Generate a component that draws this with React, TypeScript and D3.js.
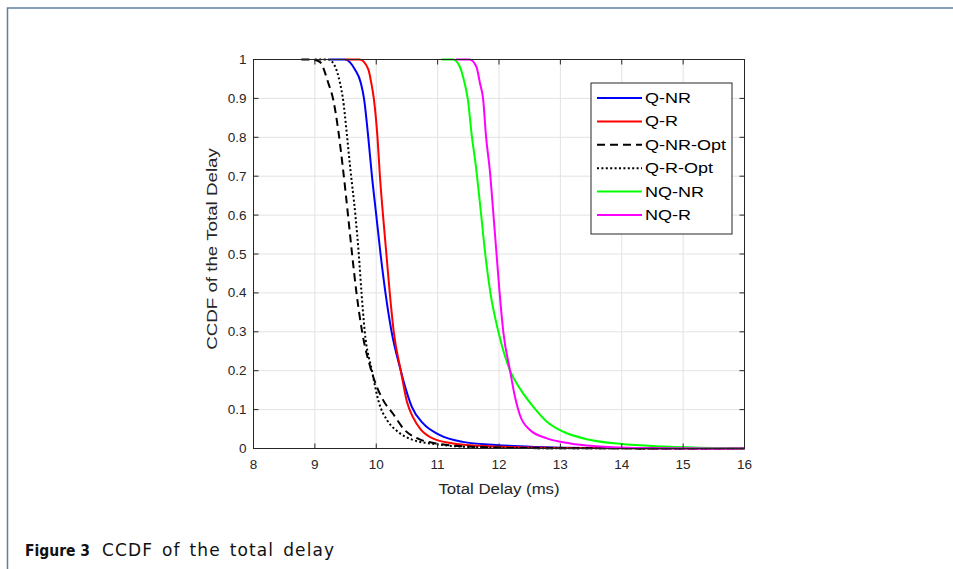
import React from 'react';
import * as d3 from 'd3';

// axis ticks
const xTicks = [8, 9, 10, 11, 12, 13, 14, 15, 16];
const yTicks = [0, 0.1, 0.2, 0.3, 0.4, 0.5, 0.6, 0.7, 0.8, 0.9, 1];
const yTickLabels = ['0', '0.1', '0.2', '0.3', '0.4', '0.5', '0.6', '0.7', '0.8', '0.9', '1'];

// CCDF curves: [delay (ms), ccdf]
const qNR: [number, number][] = [
  [9.24, 1], [9.49, 1], [9.65, 0.975], [9.75, 0.939], [9.8, 0.9], [9.87, 0.8],
  [9.93, 0.7], [10.0, 0.6], [10.07, 0.5], [10.15, 0.4], [10.25, 0.3], [10.4, 0.2],
  [10.45, 0.17], [10.58, 0.107], [10.76, 0.065], [11.03, 0.035], [11.41, 0.017],
  [11.95, 0.009], [12.6, 0.004], [13.5, 0.001], [16, 0],
];
const qR: [number, number][] = [
  [9.49, 1], [9.73, 1], [9.87, 0.975], [9.92, 0.939], [9.96, 0.9], [10.02, 0.8],
  [10.06, 0.7], [10.11, 0.6], [10.165, 0.5], [10.22, 0.4], [10.285, 0.3], [10.4, 0.2],
  [10.5, 0.12], [10.6, 0.08], [10.72, 0.05], [10.92, 0.026], [11.25, 0.013],
  [11.68, 0.007], [12.3, 0.003], [13.2, 0.001], [16, 0],
];
const qNROpt: [number, number][] = [
  [8.78, 1], [8.95, 1], [9.08, 0.994], [9.22, 0.939], [9.3, 0.896], [9.38, 0.819],
  [9.45, 0.73], [9.54, 0.6], [9.606, 0.5], [9.678, 0.4], [9.77, 0.3], [9.92, 0.2],
  [10.11, 0.125], [10.27, 0.09], [10.46, 0.048], [10.7, 0.024], [10.98, 0.013],
  [11.5, 0.005], [12.5, 0.001], [16, 0],
];
const qROpt: [number, number][] = [
  [9.0, 1], [9.22, 1], [9.33, 0.982], [9.41, 0.939], [9.46, 0.896], [9.52, 0.81],
  [9.57, 0.73], [9.66, 0.6], [9.715, 0.5], [9.76, 0.4], [9.813, 0.3], [9.93, 0.2],
  [10.04, 0.12], [10.18, 0.072], [10.33, 0.046], [10.6, 0.022], [10.98, 0.011],
  [11.5, 0.004], [12.5, 0.001], [16, 0],
];
const nqNR: [number, number][] = [
  [11.06, 1], [11.25, 1], [11.36, 0.982], [11.44, 0.939], [11.49, 0.9], [11.56, 0.8],
  [11.62, 0.73], [11.71, 0.6], [11.776, 0.5], [11.86, 0.4], [11.99, 0.3], [12.18, 0.2],
  [12.35, 0.152], [12.56, 0.107], [12.78, 0.069], [13.05, 0.043], [13.43, 0.024],
  [13.97, 0.012], [14.68, 0.005], [15.5, 0.001], [16, 0],
];
const nqR: [number, number][] = [
  [11.3, 1], [11.52, 1], [11.63, 0.982], [11.69, 0.939], [11.74, 0.9], [11.79, 0.8],
  [11.85, 0.716], [11.91, 0.6], [11.96, 0.5], [12.01, 0.4], [12.07, 0.3], [12.18, 0.2],
  [12.26, 0.133], [12.34, 0.086], [12.5, 0.048], [12.78, 0.026], [13.16, 0.013],
  [13.59, 0.006], [14.1, 0.002], [15, 0.0005], [16, 0],
];

const seriesNames = ['Q-NR', 'Q-R', 'Q-NR-Opt', 'Q-R-Opt', 'NQ-NR', 'NQ-R'];
const seriesData = [qNR, qR, qNROpt, qROpt, nqNR, nqR];

const lineStyles = [
  { color: '#0000ff', dash: undefined },
  { color: '#ff0000', dash: undefined },
  { color: '#000000', dash: '8,5' },
  { color: '#000000', dash: '2,2.4' },
  { color: '#00ff00', dash: undefined },
  { color: '#ff00ff', dash: undefined },
];

const W = 953;
const H = 569;
const plot = { left: 253.5, right: 744.5, top: 59.5, bottom: 448.5 };
const axisColor = '#262626';
const font = '"Liberation Sans", Arial, sans-serif';

const App = () => {
  const x = d3.scaleLinear().domain([8, 16]).range([plot.left, plot.right]);
  const y = d3.scaleLinear().domain([0, 1]).range([plot.bottom, plot.top]);
  const line = d3.line<[number, number]>()
    .x(d => x(d[0]))
    .y(d => y(d[1]))
    .curve(d3.curveMonotoneX);

  const legend = { x: 591, y: 83, w: 141, h: 151, row0: 98, rowGap: 23.4 };

  return (
    <svg width={W} height={H} style={{ position: 'absolute', left: 0, top: 0, background: '#fff' }}>
      {/* page frame */}
      <path d={`M7.5,${H + 5} V8 H${W + 5}`} fill="none" stroke="#5f7fa0" strokeWidth={1.5} />

      {/* grid */}
      <g stroke="#e3e3e3" strokeWidth={1}>
        {xTicks.map(t => (
          <line key={'gx' + t} x1={x(t)} x2={x(t)} y1={plot.top} y2={plot.bottom} />
        ))}
        {yTicks.map(t => (
          <line key={'gy' + t} x1={plot.left} x2={plot.right} y1={y(t)} y2={y(t)} />
        ))}
      </g>

      {/* curves */}
      <g fill="none" strokeWidth={2}>
        {seriesData.map((d, i) => (
          <path key={seriesNames[i]} d={line(d) ?? ''} stroke={lineStyles[i].color}
            strokeDasharray={lineStyles[i].dash} />
        ))}
      </g>

      {/* axes box + inward ticks */}
      <rect x={plot.left} y={plot.top} width={plot.right - plot.left} height={plot.bottom - plot.top}
        fill="none" stroke={axisColor} strokeWidth={1} />
      <g stroke={axisColor} strokeWidth={1}>
        {xTicks.map(t => (
          <g key={'tx' + t}>
            <line x1={x(t)} x2={x(t)} y1={plot.bottom} y2={plot.bottom - 5} />
            <line x1={x(t)} x2={x(t)} y1={plot.top} y2={plot.top + 5} />
          </g>
        ))}
        {yTicks.map(t => (
          <g key={'ty' + t}>
            <line x1={plot.left} x2={plot.left + 5} y1={y(t)} y2={y(t)} />
            <line x1={plot.right} x2={plot.right - 5} y1={y(t)} y2={y(t)} />
          </g>
        ))}
      </g>

      {/* tick labels */}
      <g fontFamily={font} fontSize={13.5} fill={axisColor}>
        {xTicks.map(t => (
          <text key={'lx' + t} x={x(t)} y={plot.bottom + 20.5} textAnchor="middle">{t}</text>
        ))}
        {yTicks.map((t, i) => (
          <text key={'ly' + t} x={plot.left - 7} y={y(t)} textAnchor="end" dominantBaseline="central">
            {yTickLabels[i]}
          </text>
        ))}
      </g>

      {/* axis titles */}
      <text transform={`translate(${(plot.left + plot.right) / 2},494) scale(1.12,1)`} textAnchor="middle"
        fontFamily={font} fontSize={15} fill={axisColor}>Total Delay (ms)</text>
      <text transform={`translate(217,249) rotate(-90) scale(1.25,1)`}
        textAnchor="middle" fontFamily={font} fontSize={15} fill={axisColor}>CCDF of the Total Delay</text>

      {/* legend */}
      <rect x={legend.x} y={legend.y} width={legend.w} height={legend.h} fill="#fff"
        stroke={axisColor} strokeWidth={1} />
      {seriesNames.map((name, i) => {
        const ry = legend.row0 + i * legend.rowGap;
        return (
          <g key={'lg' + name}>
            <line x1={597} x2={642} y1={ry} y2={ry} stroke={lineStyles[i].color} strokeWidth={2}
              strokeDasharray={lineStyles[i].dash} />
            <text transform={`translate(645,${ry}) scale(1.2,1)`} dominantBaseline="central"
              fontFamily={font} fontSize={15} fill="#000">{name}</text>
          </g>
        );
      })}

      {/* caption */}
      <g fontFamily='"DejaVu Sans", sans-serif' fill="#111">
        <text x={25} y={556} fontSize={15.5} fontWeight="bold" textLength={65}
          lengthAdjust="spacingAndGlyphs">Figure 3</text>
        <text x={102} y={556} fontSize={17} letterSpacing={1.1} wordSpacing={2.5}>CCDF of the total delay</text>
      </g>
    </svg>
  );
};

export default App;
